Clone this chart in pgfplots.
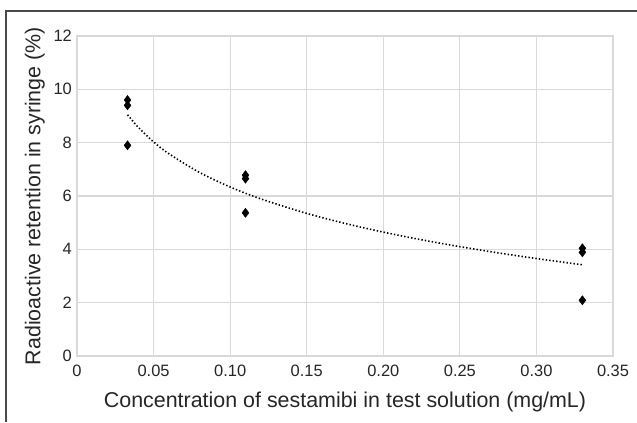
\documentclass[border=0pt]{standalone}
\usepackage{fontspec}
\setmainfont{Liberation Sans}
\usepackage{pgfplots}
\pgfplotsset{compat=1.18}
\definecolor{gridgray}{HTML}{D9D9D9}
\definecolor{framegray}{HTML}{4A4A4A}

\begin{document}
\begin{tikzpicture}[x=1bp,y=1bp]
  \useasboundingbox (0,0) rectangle (637,422);
  \draw[framegray, line width=1.2bp] (6,0) -- (6,411) -- (637,411);
  \begin{axis}[
    at={(77bp,66bp)}, anchor=south west,
    scale only axis, width=536bp, height=320bp,
    xmin=0, xmax=0.35, ymin=0, ymax=12,
    xtick={0,0.05,...,0.35}, ytick={0,2,...,12},
    xticklabels={0,0.05,0.10,0.15,0.20,0.25,0.30,0.35},
    /pgf/number format/assume math mode=true,
    tick label style={font=\fontsize{16.5}{18}\selectfont, text=black!85, inner sep=0pt},
    label style={font=\fontsize{21.5}{24}\selectfont, text=black!85, inner sep=0pt},
    xlabel={Concentration of sestamibi in test solution (mg/mL)},
    ylabel={Radioactive retention in syringe (\%)},
    xlabel style={at={(axis description cs:0.5,0)}, anchor=north, yshift=-36bp},
    ylabel style={at={(axis description cs:0,0.5)}, anchor=south, yshift=32bp},
    xticklabel style={anchor=north, yshift=-9bp},
    yticklabel style={anchor=east, xshift=-5bp},
    major tick length=0pt,
    axis line style={gridgray, line width=1.2bp},
    grid=major, grid style={gridgray, line width=1.2bp},
    clip=false,
  ]
    \addplot[only marks, mark=diamond*, mark size=4.6bp, black] coordinates {
      (0.033,9.60) (0.033,9.40) (0.033,7.90)
      (0.110,6.78) (0.110,6.65) (0.110,5.37)
      (0.330,4.04) (0.330,3.89) (0.330,2.09)
    };
    \addplot[black, line width=1.6bp, dash pattern=on 1.4bp off 2.1bp, smooth, mark=none] coordinates {
      (0.033,9.045) (0.040,8.576) (0.050,8.030) (0.060,7.585)
      (0.080,6.883) (0.100,6.338) (0.120,5.893) (0.150,5.348)
      (0.180,4.903) (0.210,4.526) (0.240,4.200) (0.270,3.912)
      (0.300,3.655) (0.330,3.422)
    };
  \end{axis}
\end{tikzpicture}
\end{document}
